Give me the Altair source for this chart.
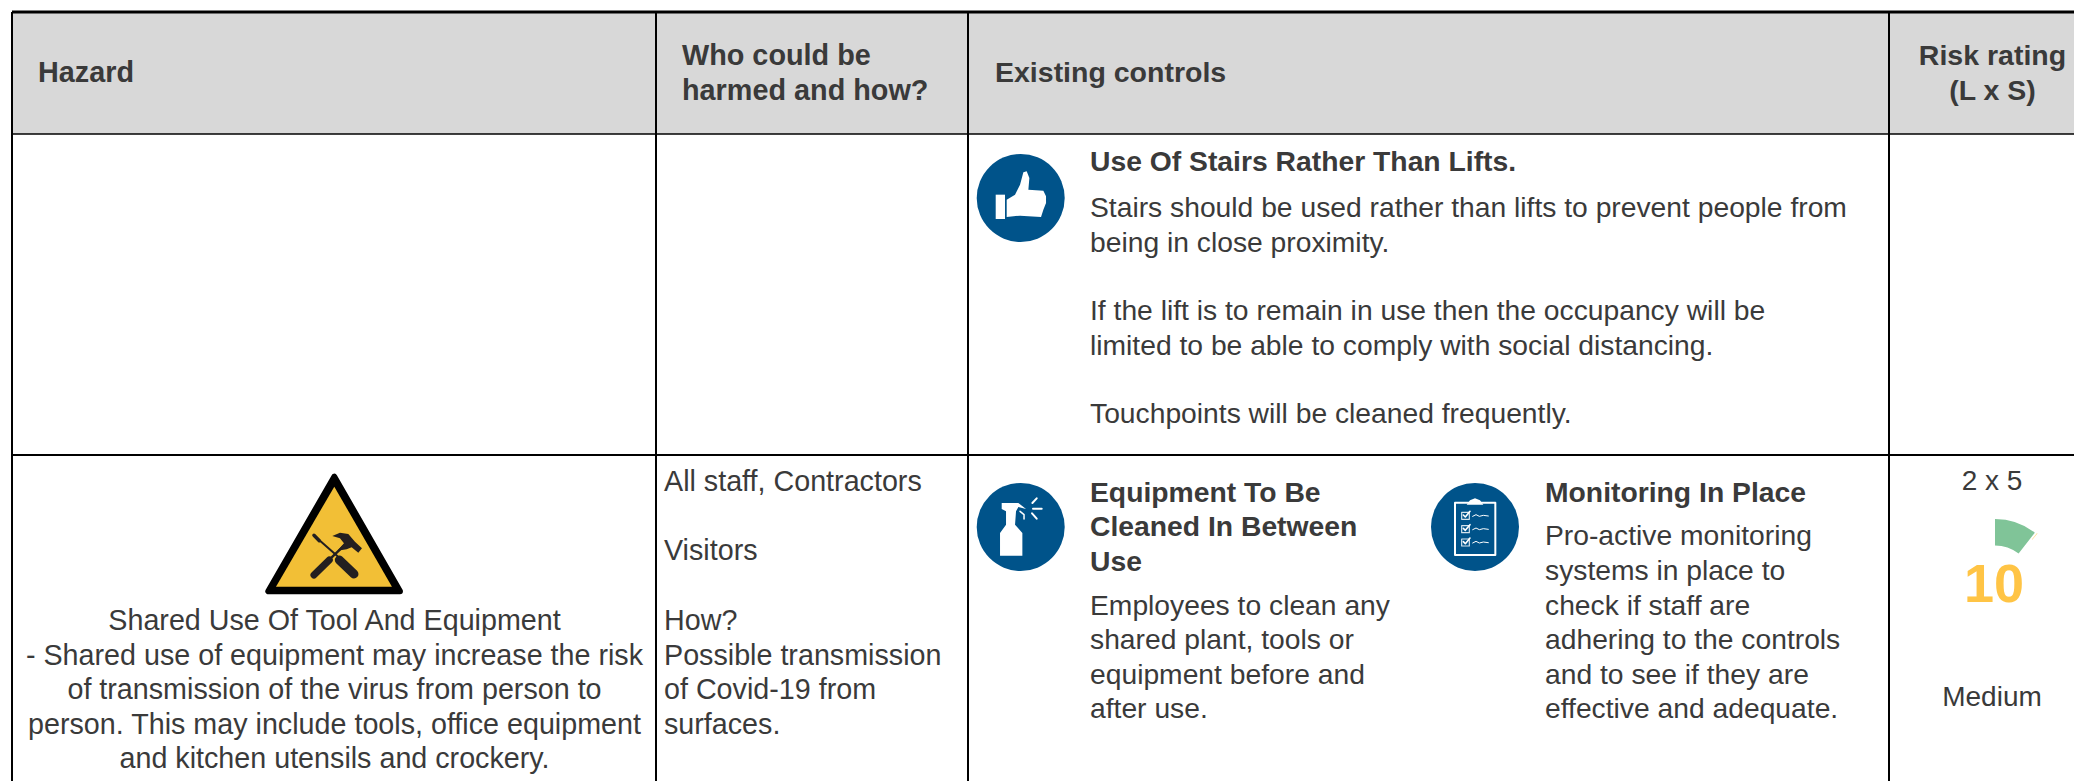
import altair as alt
import pandas as pd

# ---- text content ----
HEADERS = ["Hazard", "Who could be", "harmed and how?", "Existing controls", "Risk rating", "(L x S)"]
STAIRS_TITLE = ["Use Of Stairs Rather Than Lifts."]
STAIRS_BODY = ["Stairs should be used rather than lifts to prevent people from", "being in close proximity.",
               "If the lift is to remain in use then the occupancy will be",
               "limited to be able to comply with social distancing.", "Touchpoints will be cleaned frequently."]
EQUIP_TITLE = ["Equipment To Be", "Cleaned In Between", "Use"]
EQUIP_BODY = ["Employees to clean any", "shared plant, tools or", "equipment before and", "after use."]
MON_TITLE = ["Monitoring In Place"]
MON_BODY = ["Pro-active monitoring", "systems in place to", "check if staff are", "adhering to the controls",
            "and to see if they are", "effective and adequate."]
WHO = ["All staff, Contractors", "Visitors", "How?", "Possible transmission", "of Covid-19 from", "surfaces."]
HAZARD = ["Shared Use Of Tool And Equipment", "- Shared use of equipment may increase the risk",
          "of transmission of the virus from person to", "person. This may include tools, office equipment",
          "and kitchen utensils and crockery."]
RISK = ["2 x 5", "Medium"]
SCORE = ["10"]

# ---- table layout ----
COL_X = [12, 656, 968, 1889]
ROW_Y = [12, 134, 455]
BOTTOM, RIGHT = 781, 2082
INK, GREY, BLUE, GREEN, AMBER, SIGN = "#3a3a3a", "#d8d8d8", "#00538a", "#80c498", "#ffc445", "#f2bf36"
FONT = "Liberation Sans"
BODY, WIDE, HEAD, TITLE, RATE = 28.25, 28.7, 28.5, 28.3, 28

X = alt.Scale(domain=[8, 2074], nice=False, zero=False)
Y = alt.Scale(domain=[8, 781], nice=False, zero=False, reverse=True)
xe = alt.X("x:Q", scale=X, axis=None)
ye = alt.Y("y:Q", scale=Y, axis=None)

def table(**k):
    return pd.DataFrame(k)

def text_layer(strings, xs, ys, bold=False, align="left", size=BODY, color=INK):
    xs = xs if isinstance(xs, list) else [xs] * len(strings)
    df = table(t=strings, x=xs, y=ys)
    return alt.Chart(df).mark_text(font=FONT, fontSize=size, fontWeight="bold" if bold else "normal",
                                   align=align, baseline="middle", color=color, dy=0.5).encode(x=xe, y=ye, text="t:N")

def path(points, c, closed=True):
    s = "M" + " L".join(f"{(px - c[0]) / 3:.2f},{(py - c[1]) / 3:.2f}" for px, py in points)
    return s + (" Z" if closed else "")

def glyph(d, x, y, fill=None, stroke=None, width=0, join="round"):
    kw = dict(shape=d, size=4, opacity=1, strokeWidth=width, strokeCap="round", strokeJoin=join)
    if fill:
        kw.update(filled=True, fill=fill)
    else:
        kw.update(filled=False, fill="transparent")
    kw["stroke"] = stroke if stroke else "transparent"
    return alt.Chart(table(x=[x], y=[y])).mark_point(**kw).encode(x=xe, y=ye)

def disc(x, y):
    return alt.Chart(table(x=[x], y=[y])).mark_point(shape="circle", size=7744, filled=True, fill=BLUE,
                                                     opacity=1, strokeWidth=0).encode(x=xe, y=ye)

layers = []
# header band
layers.append(alt.Chart(table(x=[COL_X[0]], x2=[RIGHT], y=[ROW_Y[0]], y2=[ROW_Y[1]]))
              .mark_rect(color=GREY, clip=True).encode(x=xe, x2="x2:Q", y=ye, y2="y2:Q"))
# grid
v = table(x=COL_X, y=[ROW_Y[0]] * 4, y2=[BOTTOM] * 4)
layers.append(alt.Chart(v).mark_rule(color="black", strokeWidth=2, clip=True).encode(x=xe, y=ye, y2="y2:Q"))
h = table(x=[COL_X[0]] * 3, x2=[RIGHT] * 3, y=ROW_Y, w=[3, 1.5, 2])
layers.append(alt.Chart(h).mark_rule(color="black", clip=True).encode(
    x=xe, x2="x2:Q", y=ye, strokeWidth=alt.StrokeWidth("w:Q", scale=None, legend=None)))

# header text
layers.append(text_layer(HEADERS[:1], 38, [72], bold=True, size=HEAD + 0.3))
layers.append(text_layer(HEADERS[1:3], 682, [55, 90], bold=True, size=HEAD + 0.3))
layers.append(text_layer(HEADERS[3:4], 995, [72], bold=True, size=HEAD))
layers.append(text_layer(HEADERS[4:], 1992.5, [55, 90], bold=True, align="center", size=HEAD))

# existing controls text
layers.append(text_layer(STAIRS_TITLE, 1090, [162], bold=True, size=TITLE))
layers.append(text_layer(STAIRS_BODY, 1090, [208, 243, 311, 346, 414]))
layers.append(text_layer(EQUIP_TITLE, 1090, [493, 527, 562], bold=True, size=TITLE))
layers.append(text_layer(EQUIP_BODY, 1090, [606, 640, 675, 709]))
layers.append(text_layer(MON_TITLE, 1545, [493], bold=True, size=TITLE))
layers.append(text_layer(MON_BODY, 1545, [536, 571, 606, 640, 675, 709]))
layers.append(text_layer(WHO, 664, [481, 550, 620, 655, 689, 724], size=WIDE))
layers.append(text_layer(HAZARD, 334.5, [620, 655, 689, 724, 758], align="center", size=WIDE))
layers.append(text_layer(RISK, 1992, [481, 697], align="center", size=RATE))
layers.append(text_layer(SCORE, 1994, [585], bold=True, align="center", size=54, color=AMBER))

# thumbs-up icon
T = (182, 205)
layers.append(disc(1020.7, 198))
layers.append(glyph(path([(107, 195), (135, 195), (135, 268), (107, 268)], T), 1020.7, 198, fill="white"))
layers.append(glyph(path([(140, 210), (165, 195), (180, 165), (190, 128), (200, 125), (208, 145), (205, 180),
                          (250, 183), (258, 200), (258, 220), (250, 240), (243, 262), (180, 258), (140, 262)], T),
                    1020.7, 198, fill="white"))

# spray bottle icon
S = (182, 172)
layers.append(disc(1020.7, 527))
layers.append(glyph(path([(120, 190), (138, 165), (138, 125), (125, 118), (125, 100), (175, 100), (198, 118),
                          (175, 112), (168, 125), (165, 165), (187, 190), (187, 258), (120, 258)], S),
                    1020.7, 527, fill="white"))
for ray in ([(217, 100), (230, 86)], [(219, 117), (245, 117)], [(216, 131), (230, 147)]):
    layers.append(glyph(path(ray, S, closed=False), 1020.7, 527, stroke="white", width=2))
layers.append(glyph(path([(180, 125), (192, 135), (192, 148)], S, closed=False), 1020.7, 527, stroke="white", width=1.5))

# clipboard icon
C = (165, 172)
layers.append(disc(1475, 527))
layers.append(glyph(path([(105, 99), (226, 99), (226, 256), (105, 256)], C), 1475, 527, stroke="white", width=2))
layers.append(glyph(path([(140, 105), (150, 92), (165, 86), (180, 92), (190, 105)], C), 1475, 527, fill="white"))
for top in (128, 168, 208):
    layers.append(glyph(path([(125, top), (148, top), (148, top + 21), (125, top + 21)], C), 1475, 527,
                        stroke="#d5e3ec", width=1.2))
    layers.append(glyph(path([(130, top + 8), (136, top + 14), (150, top - 3)], C, closed=False), 1475, 527,
                        stroke="white", width=1.6))
    layers.append(glyph(path([(158, top + 12), (168, top + 7), (178, top + 12), (190, top + 9), (205, top + 11)], C,
                             closed=False), 1475, 527, stroke="white", width=1))

# warning sign
W = (283, 270)
layers.append(glyph(path([(283, 50), (85, 394), (480, 394)], W), 334.3, 550, fill="#000000", stroke="#000000", width=6))
layers.append(glyph(path([(283, 80), (108, 380), (456, 380)], W), 334.3, 550, fill=SIGN))
DARK = "#231f20"
layers.append(glyph(path([(224, 228), (292, 288)], W, closed=False), 334.3, 550, stroke=DARK, width=2))
layers.append(glyph(path([(222, 226), (238, 242)], W, closed=False), 334.3, 550, stroke=DARK, width=3.5))
layers.append(glyph(path([(298, 300), (342, 342)], W, closed=False), 334.3, 550, stroke=DARK, width=9))
layers.append(glyph(path([(222, 345), (268, 300)], W, closed=False), 334.3, 550, stroke=DARK, width=7))
layers.append(glyph(path([(272, 295), (325, 245)], W, closed=False), 334.3, 550, stroke=DARK, width=2.5))
layers.append(glyph(path([(277, 228), (300, 218), (325, 222), (345, 245), (366, 265), (355, 278), (335, 262),
                          (320, 268), (292, 272), (312, 250), (300, 235)], W), 334.3, 550, fill=DARK))

# gauge
layers.append(alt.Chart(table(x=[1995], y=[584])).mark_arc(theta=0, theta2=0.66, radius=65, radius2=38.5,
                                                          color=GREEN).encode(x=xe, y=ye))
layers.append(alt.Chart(table(x=[1995], y=[584])).mark_arc(theta=0.69, theta2=0.70, radius=66, radius2=58,
                                                          color=AMBER, opacity=0.6).encode(x=xe, y=ye))

chart = alt.layer(*layers).properties(width=2066, height=773, padding=0).configure_view(stroke=None)
chart.save("out.html", embed_options={"renderer": "svg", "actions": False})
